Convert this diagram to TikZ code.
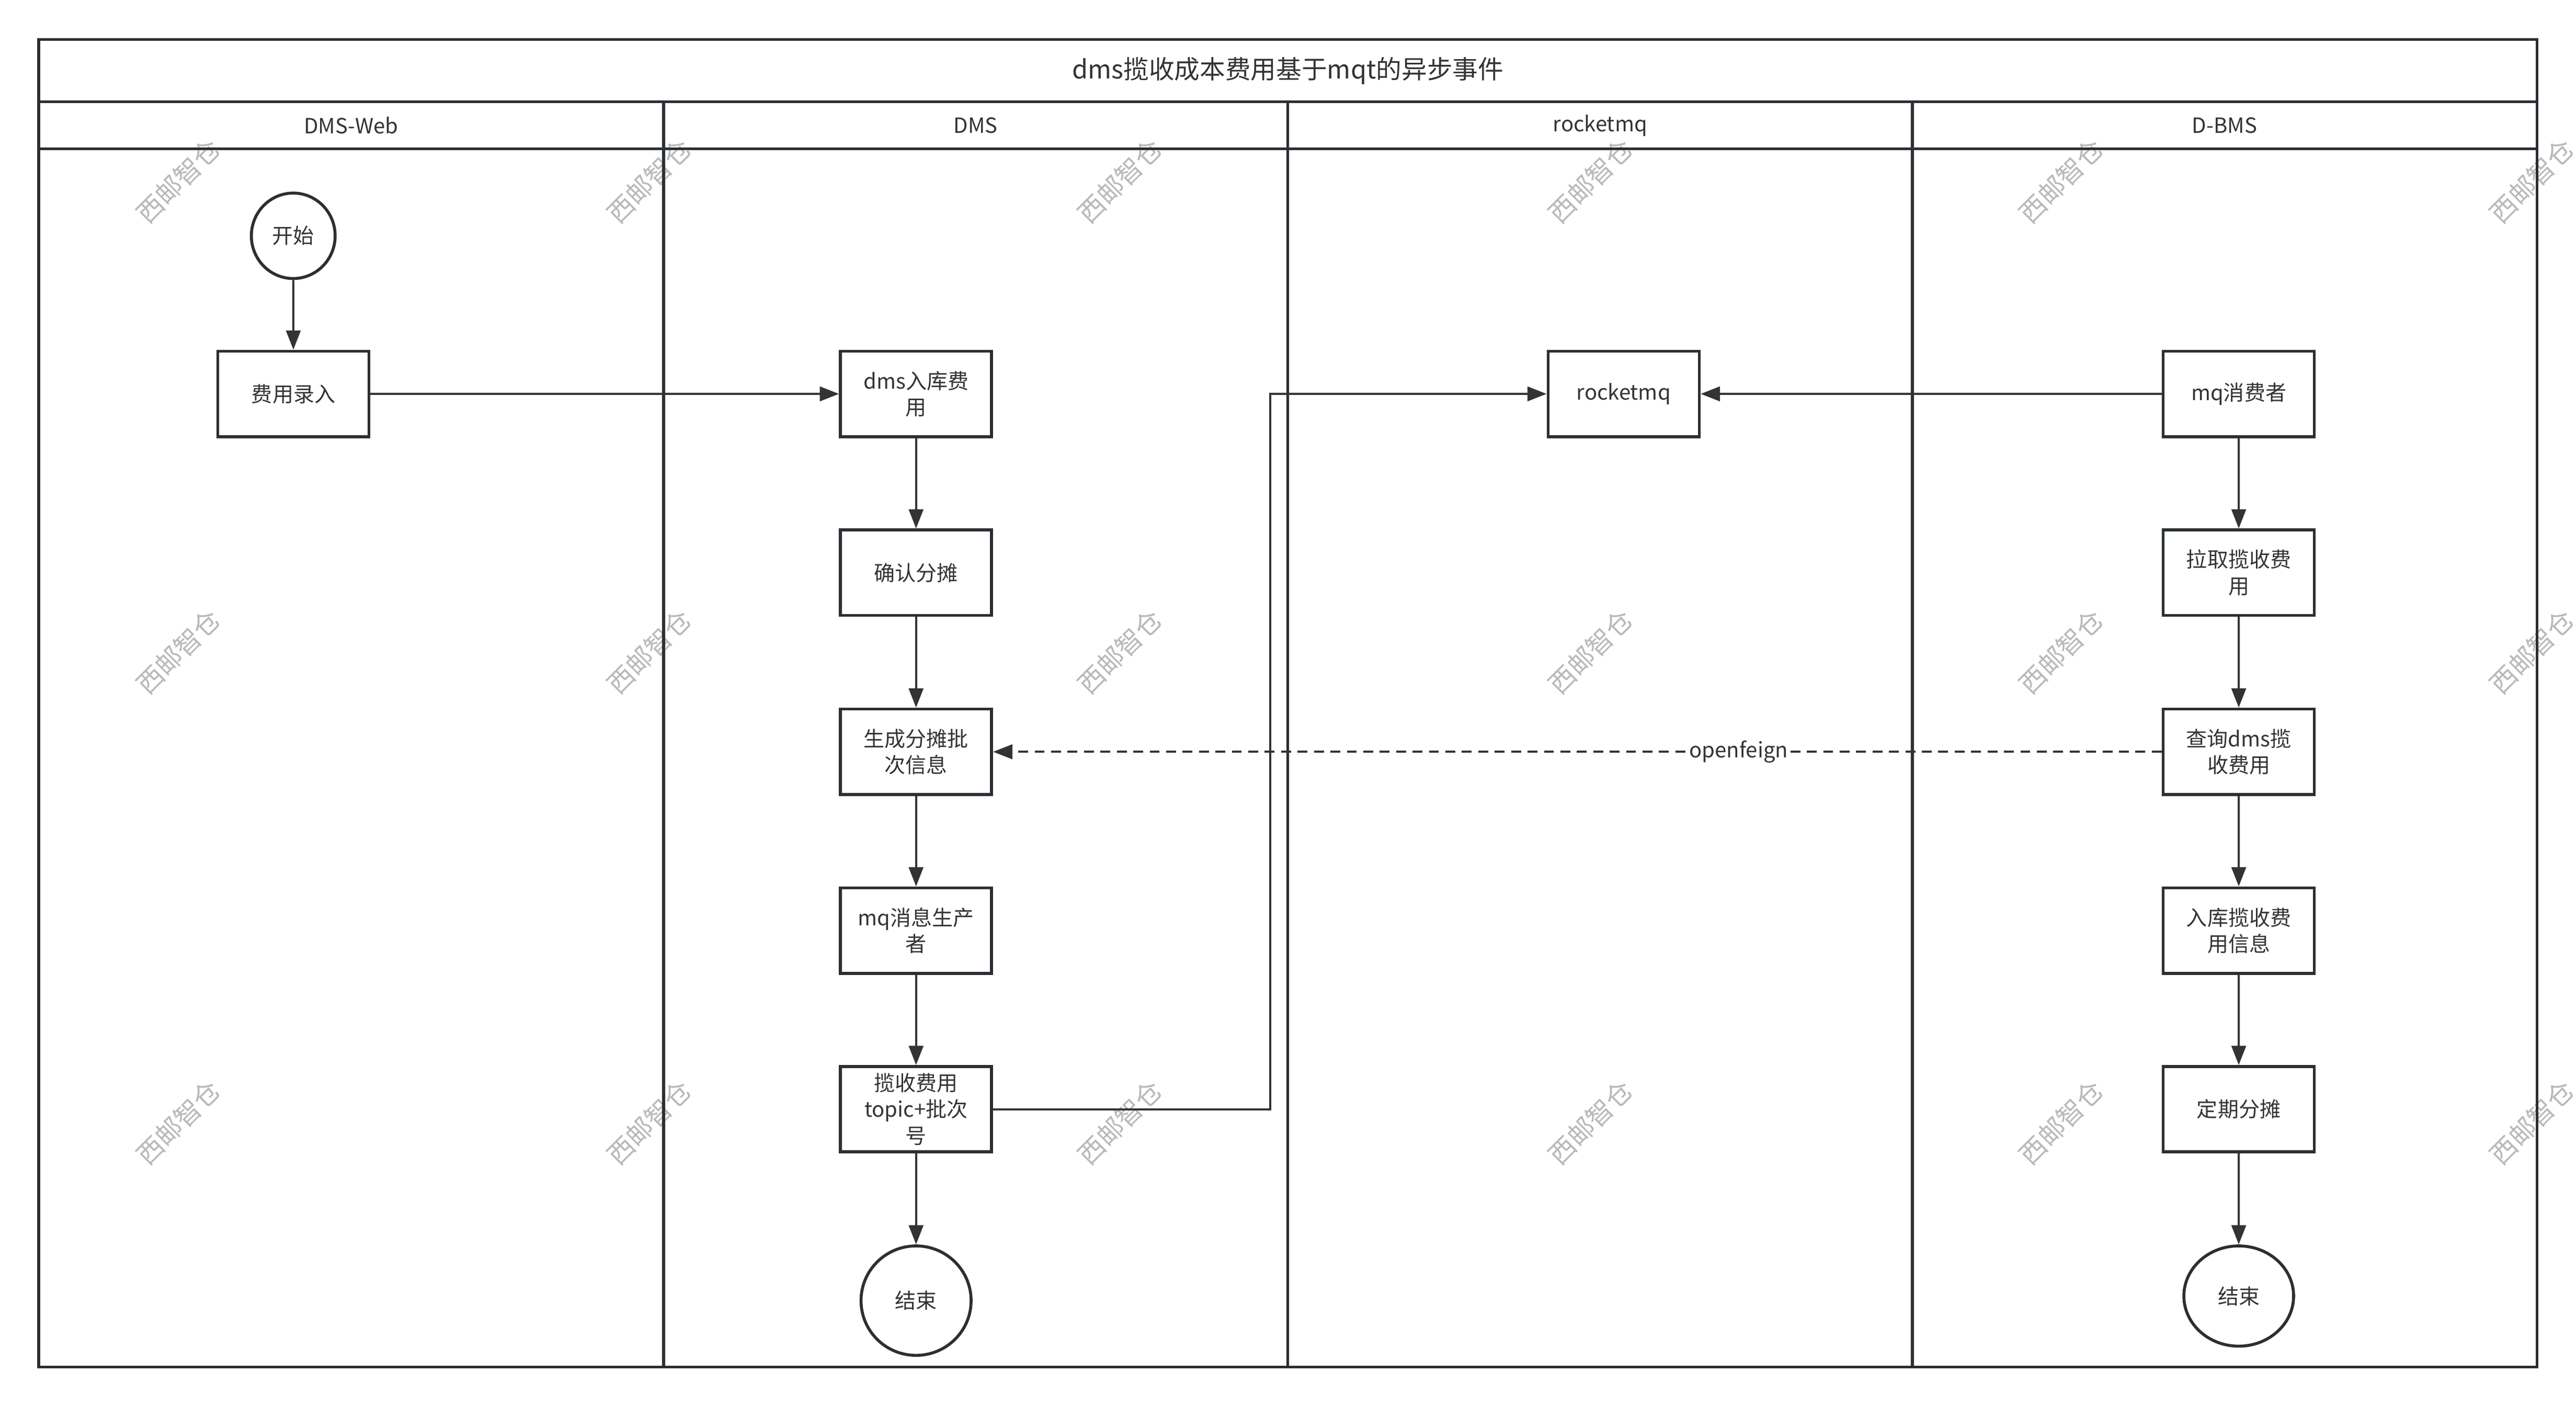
\documentclass[tikz,border=0pt]{standalone}
\usepackage{fontspec}
\setmainfont{Noto Sans CJK SC}
\usetikzlibrary{arrows.meta,shapes.geometric}
\definecolor{ink}{HTML}{2B2F33}
\definecolor{txt}{HTML}{333333}

\begin{document}
\begin{tikzpicture}[x=1pt,y=-1pt,
  frame/.style={draw=ink,line width=1.7pt},
  box/.style={draw=ink,line width=1.8pt,minimum width=92pt,minimum height=52pt,
    inner sep=2pt,align=center,text=txt,font=\fontsize{12.75}{16}\selectfont},
  term/.style={ellipse,draw=ink,line width=1.8pt,inner sep=0pt,text=txt,
    font=\fontsize{12.75}{16}\selectfont},
  lanehead/.style={text=txt,font=\fontsize{12.75}{16}\selectfont},
  flow/.style={draw=txt,line width=1.25pt,-{Triangle[length=11.7pt,width=8.8pt]}},
  rpc/.style={flow,dash pattern=on 6pt off 4pt},
  watermark/.style={text=gray!55,rotate=45,font=\fontsize{16}{16}\selectfont}]

  \useasboundingbox (0,0) rectangle (1568,855.6);

  % watermarks
  \foreach \wx in {0,...,5}
    \foreach \wy in {0,1,2}
      \node[watermark] (wm-\wx-\wy) at (108.5+286.5*\wx,110+286.5*\wy) {西邮智仓};

  % pool and lanes
  \draw[frame] (23.6,24) rectangle (1544.2,831.8);
  \draw[frame] (23.6,62) -- (1544.2,62);
  \draw[frame] (23.6,90.5) -- (1544.2,90.5);
  \foreach \lx in {403.9,783.9,1164}
    \draw[frame] (\lx,62) -- (\lx,831.8);

  \node[text=txt,font=\fontsize{15.5}{18}\selectfont] (title) at (783.9,43) {dms揽收成本费用基于mqt的异步事件};
  \node[lanehead] (hweb) at (213.7,76.3) {DMS-Web};
  \node[lanehead] (hdms) at (593.9,76.3) {DMS};
  \node[lanehead] (hmq) at (974,76.3) {rocketmq};
  \node[lanehead] (hbms) at (1354.1,76.3) {D-BMS};

  % DMS-Web
  \node[term,minimum width=51pt,minimum height=52pt] (start) at (178.5,143.5) {开始};
  \node[box] (entry) at (178.6,239.7) {费用录入};

  % DMS
  \node[box] (store) at (557.6,239.7) {dms入库费\\用};
  \node[box] (confirm) at (557.6,348.5) {确认分摊};
  \node[box] (gen) at (557.6,457.5) {生成分摊批\\次信息};
  \node[box] (producer) at (557.6,566.3) {mq消息生产\\者};
  \node[box] (topic) at (557.6,675) {揽收费用\\topic+批次\\号};
  \node[term,minimum width=67pt,minimum height=66.6pt] (end1) at (557.6,791.5) {结束};

  % rocketmq
  \node[box] (mq) at (988.3,239.7) {rocketmq};

  % D-BMS
  \node[box] (consumer) at (1362.7,239.7) {mq消费者};
  \node[box] (pull) at (1362.7,348.5) {拉取揽收费\\用};
  \node[box] (query) at (1362.7,457.5) {查询dms揽\\收费用};
  \node[box] (save) at (1362.7,566.3) {入库揽收费\\用信息};
  \node[box] (share) at (1362.7,675) {定期分摊};
  \node[term,minimum width=66.8pt,minimum height=61pt] (end2) at (1362.7,788.7) {结束};

  % connectors
  \draw[flow] (start) -- (entry);
  \draw[flow] (entry) -- (store);
  \draw[flow] (store) -- (confirm);
  \draw[flow] (confirm) -- (gen);
  \draw[flow] (gen) -- (producer);
  \draw[flow] (producer) -- (topic);
  \draw[flow] (topic) -- (end1);

  \coordinate (bend) at (773.1,239.7);
  \draw[flow] (topic.east) -| (bend) -- (mq.west);
  \draw[flow] (consumer.west) -- (mq.east);

  \draw[flow] (consumer) -- (pull);
  \draw[flow] (pull) -- (query);
  \draw[flow] (query) -- (save);
  \draw[flow] (save) -- (share);
  \draw[flow] (share) -- (end2);

  \draw[rpc] (query.west) -- node[pos=0.362,fill=white,inner sep=1pt,text=txt,
    font=\fontsize{12.75}{16}\selectfont] (feign) {openfeign} (gen.east);
\end{tikzpicture}
\end{document}
